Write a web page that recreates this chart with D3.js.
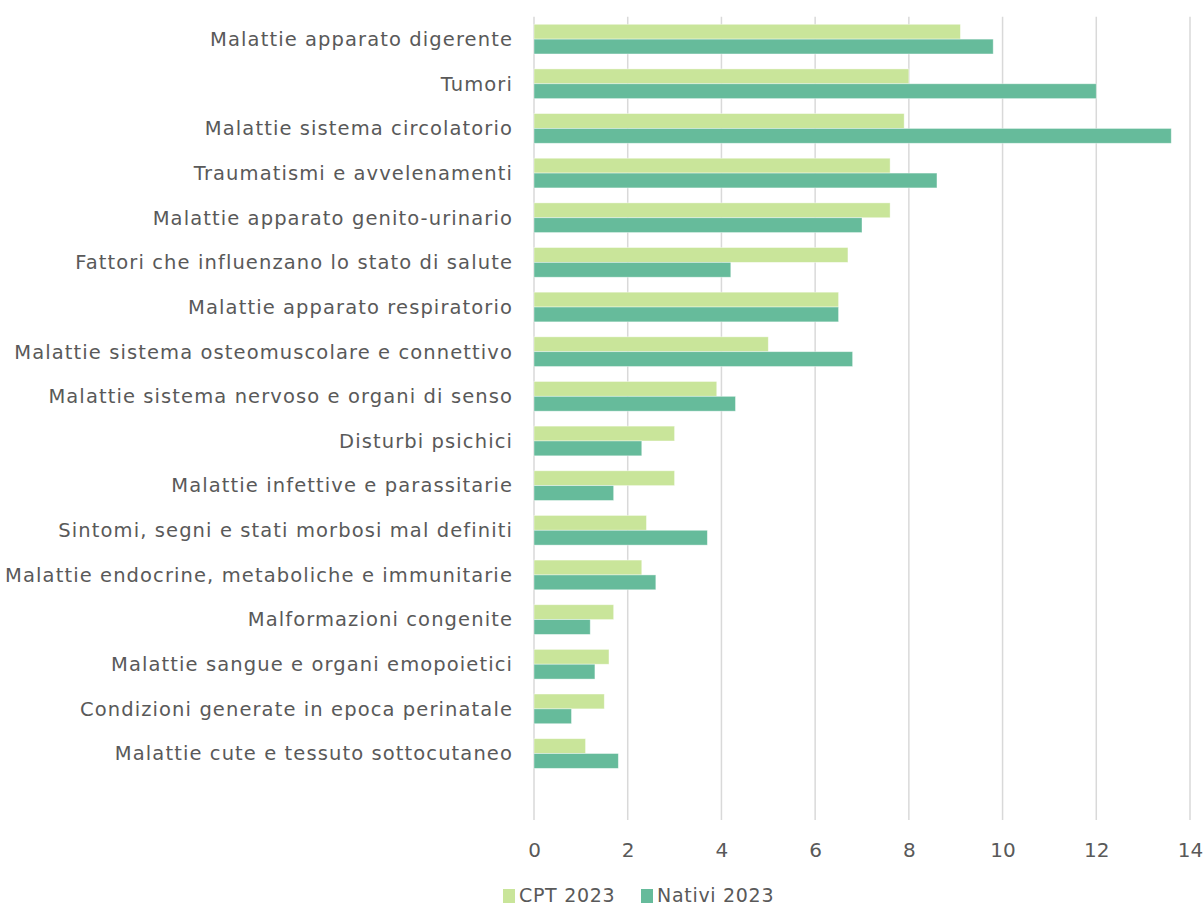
<!DOCTYPE html>
<html>
<head>
<meta charset="utf-8">
<script src="https://cdn.jsdelivr.net/npm/d3@7"></script>
<style>
  html, body { margin: 0; padding: 0; background: #ffffff; }
  svg { display: block; }
  text { font-family: "DejaVu Sans", "Noto Sans", sans-serif; fill: #595959; }
</style>
</head>
<body>
<svg id="chart" width="1204" height="907"></svg>
<script>
// Causes of hospital admission (%), CPT vs natives, 2023
const categories = [
  "Malattie apparato digerente",
  "Tumori",
  "Malattie sistema circolatorio",
  "Traumatismi e avvelenamenti",
  "Malattie apparato genito-urinario",
  "Fattori che influenzano lo stato di salute",
  "Malattie apparato respiratorio",
  "Malattie sistema osteomuscolare e connettivo",
  "Malattie sistema nervoso e organi di senso",
  "Disturbi psichici",
  "Malattie infettive e parassitarie",
  "Sintomi, segni e stati morbosi mal definiti",
  "Malattie endocrine, metaboliche e immunitarie",
  "Malformazioni congenite",
  "Malattie sangue e organi emopoietici",
  "Condizioni generate in epoca perinatale",
  "Malattie cute e tessuto sottocutaneo"
];
const cpt2023    = [9.1, 8.0, 7.9, 7.6, 7.6, 6.7, 6.5, 5.0, 3.9, 3.0, 3.0, 2.4, 2.3, 1.7, 1.6, 1.5, 1.1];
const nativi2023 = [9.8, 12.0, 13.6, 8.6, 7.0, 4.2, 6.5, 6.8, 4.3, 2.3, 1.7, 3.7, 2.6, 1.2, 1.3, 0.8, 1.8];
const seriesNames = ["CPT 2023", "Nativi 2023"];
const seriesColors = ["#c9e59a", "#66bb9b"];
const xTicks = [0, 2, 4, 6, 8, 10, 12, 14];

const svg = d3.select("#chart");
const plotLeft = 534, plotRight = 1190, plotTop = 16.8, rowH = 44.65;
const plotBottom = 820;

const x = d3.scaleLinear().domain([0, 14]).range([plotLeft, plotRight]);
const y = d3.scaleBand()
  .domain(categories)
  .range([plotTop, plotTop + rowH * categories.length])
  .paddingInner(0.335).paddingOuter(0.1675);
const sub = d3.scaleBand().domain(seriesNames).range([0, y.bandwidth()]);

// vertical gridlines
svg.append("g")
  .selectAll("line")
  .data(xTicks)
  .join("line")
  .attr("x1", d => x(d)).attr("x2", d => x(d))
  .attr("y1", plotTop).attr("y2", plotBottom)
  .attr("stroke", "#d9d9d9").attr("stroke-width", 1.5);

// bars
const series = [cpt2023, nativi2023];
seriesNames.forEach((name, si) => {
  svg.append("g")
    .selectAll("rect")
    .data(categories.map((c, i) => ({ c, v: series[si][i] })))
    .join("rect")
    .attr("x", x(0))
    .attr("y", d => y(d.c) + sub(name))
    .attr("width", d => x(d.v) - x(0))
    .attr("height", sub.bandwidth())
    .attr("fill", seriesColors[si])
    .attr("stroke", "#ffffff").attr("stroke-opacity", 0.5).attr("stroke-width", 0.8);
});

// category labels
svg.append("g")
  .selectAll("text")
  .data(categories)
  .join("text")
  .attr("x", 513)
  .attr("y", d => y(d) + y.bandwidth() / 2)
  .attr("dy", "0.35em")
  .attr("text-anchor", "end")
  .attr("font-size", 19.5)
  .attr("letter-spacing", 1.1)
  .text(d => d);

// x axis tick labels
const xAxis = d3.axisBottom(x).tickValues(xTicks).tickSize(0).tickPadding(0);
const gx = svg.append("g").attr("transform", `translate(0, 857)`).call(xAxis);
gx.select(".domain").remove();
gx.selectAll("text").attr("font-size", 20).attr("dy", 0)
  .style("font-family", "\"DejaVu Sans\", sans-serif").attr("fill", "#595959");

// legend
const legendItems = [
  { name: seriesNames[0], color: seriesColors[0], x: 503 },
  { name: seriesNames[1], color: seriesColors[1], x: 641 }
];
const lg = svg.append("g");
legendItems.forEach(it => {
  lg.append("rect").attr("x", it.x).attr("y", 889).attr("width", 12).attr("height", 14).attr("fill", it.color);
  lg.append("text").attr("x", it.x + 16).attr("y", 902).attr("font-size", 19)
    .attr("letter-spacing", 0.7).text(it.name);
});
</script>
</body>
</html>
